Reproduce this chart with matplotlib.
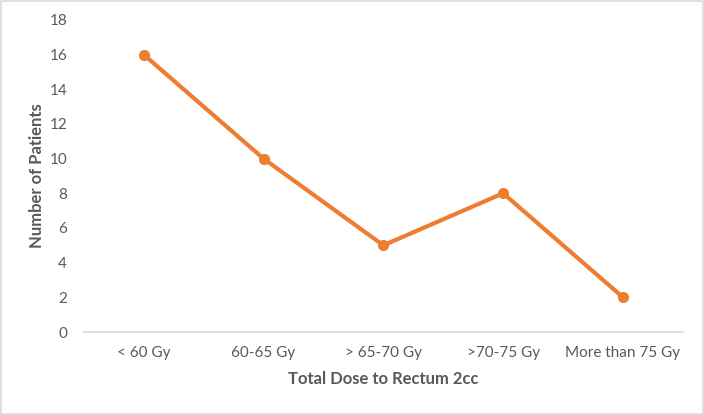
import matplotlib.pyplot as plt
from matplotlib.patches import Rectangle

plt.rcParams['font.family'] = ['Lato', 'DejaVu Sans']

categories = ["< 60 Gy", "60-65 Gy", "> 65-70 Gy", ">70-75 Gy", "More than 75 Gy"]
patients = [16, 10, 5, 8, 2]

fig = plt.figure(figsize=(7.04, 4.15), dpi=100)
ax = fig.add_axes([0.119, 0.2, 0.851, 0.752])

x = range(len(categories))
ax.plot(x, patients, color="#ED7D31", lw=3, marker="o", markersize=7,
        solid_capstyle="round")

ax.set_xlim(-0.5, len(categories) - 0.5)
ax.set_ylim(0, 18)
ax.set_yticks(range(0, 19, 2))
ax.set_xticks(list(x))
ax.set_xticklabels(categories)

for s in ["top", "right", "left"]:
    ax.spines[s].set_visible(False)
ax.spines["bottom"].set_color("#D9D9D9")
ax.spines["bottom"].set_linewidth(1.2)
ax.tick_params(axis="both", length=0, colors="#595959", labelsize=11)
ax.tick_params(axis="x", pad=10)
ax.tick_params(axis="y", pad=12)

ax.set_xlabel("Total Dose to Rectum 2cc", fontsize=12, fontweight="bold",
              color="#595959", labelpad=8)
ax.set_ylabel("Number of Patients", fontsize=12, fontweight="bold",
              color="#595959", labelpad=3)

fig.patches.append(Rectangle((0.001, 0.002), 0.997, 0.995, transform=fig.transFigure,
                             fill=False, edgecolor="#D9D9D9", lw=1.2))

fig.savefig("out.png", dpi=100)
